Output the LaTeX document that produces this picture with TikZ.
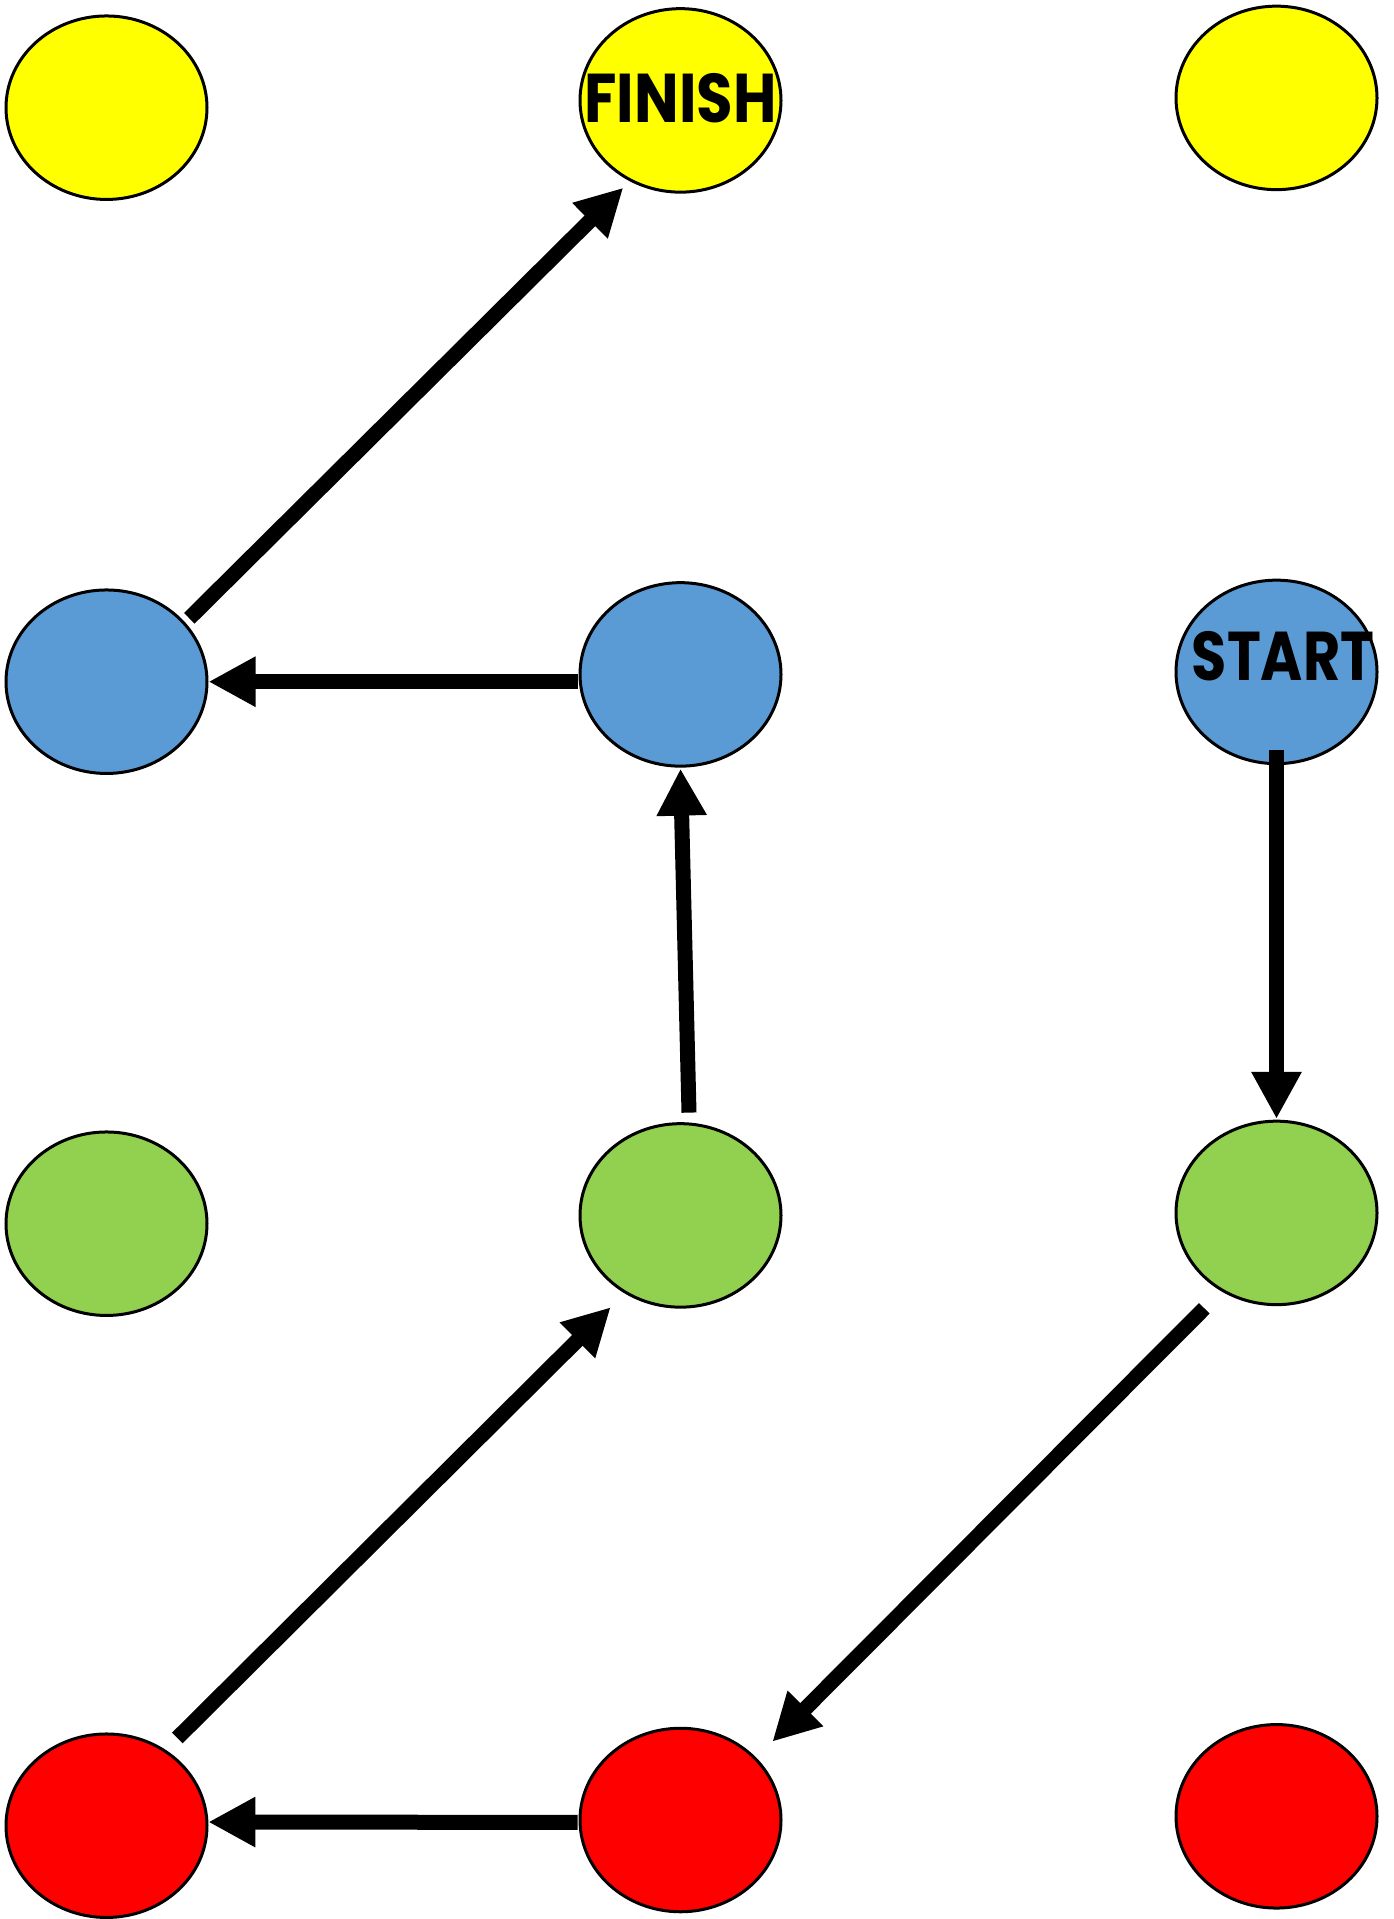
\documentclass[tikz,border=0pt]{standalone}
\usepackage{fontspec}
\setmainfont{Poppins}
\usepackage{tikz}
\usetikzlibrary{positioning, calc, arrows.meta, shapes.geometric}

\definecolor{ylw}{HTML}{FFFF00}
\definecolor{blu}{HTML}{5B9BD5}
\definecolor{grn}{HTML}{92D050}
\definecolor{rd}{HTML}{FF0000}

\tikzset{
    spot/.style={ellipse, draw=black, line width=3pt, minimum width=201pt,
        minimum height=183.5pt, inner sep=0pt},
    move/.style={line width=15pt, -{Triangle[length=47pt, width=47pt]}},
    tag/.style={font=\fontsize{69}{69}\selectfont\bfseries}
}

\begin{document}
\begin{tikzpicture}[x=1pt, y=1pt, on grid]
    \useasboundingbox (0,0) rectangle (1394,-1919);

    % Left column
    \node (Y1) [spot, fill=ylw] at (106.5,-107.7) {};
    \node (B1) [spot, fill=blu, below=574pt of Y1] {};
    \node (G1) [spot, fill=grn, below=542pt of B1] {};
    \node (R1) [spot, fill=rd, below=602pt of G1] {};

    % Middle column
    \node (F) [spot, fill=ylw, tag, right=574pt of Y1, yshift=7.3pt]
        {\makebox[0pt]{\raisebox{-22pt}[0pt][0pt]{\scalebox{0.86}[1]{FINISH}}}};
    \node (B2) [spot, fill=blu, below=574pt of F] {};
    \node (G2) [spot, fill=grn, below=541pt of B2] {};
    \node (R2) [spot, fill=rd, below=604.6pt of G2] {};

    % Right column
    \node (Y3) [spot, fill=ylw, right=596pt of F, yshift=2.5pt] {};
    \node (S) [spot, fill=blu, tag, below=574pt of Y3]
        {\makebox[0pt]{\hspace*{13pt}\raisebox{-9pt}[0pt][0pt]{\scalebox{0.83}[1]{START}}}};
    \node (G3) [spot, fill=grn, below=541pt of S] {};
    \node (R3) [spot, fill=rd, below=603.4pt of G3] {};

    % Path from START to FINISH
    \draw[move] ($(S)+(0,-78)$) -- ($(G3)+(0,94)$);
    \draw[move] ($(G3)+(-72.2,-95.4)$) -- ($(R2)+(91.8,78.3)$);
    \draw[move] ($(R2)+(-102.8,-2.4)$) -- ($(R1)+(101.8,3.7)$);
    \draw[move] ($(R1)+(70.8,87.7)$) -- ($(G2)+(-69.8,-91.8)$);
    \draw[move] ($(G2)+(8.5,102.8)$) -- ($(B2)+(0,-94.2)$);
    \draw[move] ($(B2)+(-102.5,-7.3)$) -- ($(B1)+(102,0)$);
    \draw[move] ($(B1)+(82.8,63.4)$) -- ($(F)+(-57.2,-87.3)$);

\end{tikzpicture}
\end{document}
